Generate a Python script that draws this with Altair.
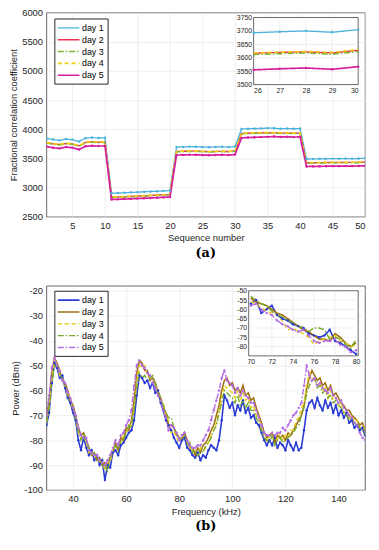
import altair as alt
import pandas as pd

DAYS = ["day 1", "day 2", "day 3", "day 4", "day 5"]

# ---------------- panel (a): correlation coefficient per sequence number
SEQ = list(range(1, 51))
A_DAY1 = [3845, 3825, 3810, 3832, 3822, 3790, 3848, 3858, 3850, 3855,
          2905, 2908, 2912, 2918, 2922, 2928, 2933, 2938, 2944, 2950,
          3695, 3698, 3702, 3700, 3696, 3693, 3697, 3700, 3695, 3705,
          4005, 4010, 4012, 4015, 4020, 4018, 4010, 4013, 4008, 4012,
          3490, 3492, 3494, 3495, 3497, 3496, 3498, 3497, 3499, 3502]
A_DAY2 = [3772, 3752, 3738, 3758, 3748, 3716, 3775, 3785, 3777, 3781,
          2838, 2841, 2845, 2850, 2855, 2860, 2866, 2871, 2876, 2882,
          3620, 3623, 3626, 3624, 3621, 3617, 3620, 3622, 3618, 3628,
          3928, 3932, 3935, 3938, 3942, 3940, 3933, 3936, 3931, 3935,
          3425, 3427, 3428, 3430, 3432, 3431, 3433, 3432, 3434, 3437]
A_DAY3 = [3766, 3746, 3732, 3752, 3742, 3710, 3769, 3779, 3771, 3775,
          2832, 2835, 2839, 2844, 2849, 2854, 2860, 2865, 2870, 2876,
          3614, 3617, 3620, 3618, 3615, 3612, 3615, 3618, 3613, 3623,
          3922, 3926, 3929, 3932, 3936, 3934, 3927, 3930, 3925, 3929,
          3419, 3421, 3422, 3424, 3426, 3425, 3427, 3426, 3428, 3431]
A_DAY4 = [3775, 3755, 3741, 3761, 3751, 3719, 3778, 3788, 3780, 3784,
          2841, 2844, 2848, 2853, 2858, 2863, 2869, 2874, 2879, 2885,
          3622, 3625, 3628, 3626, 3623, 3618, 3621, 3624, 3620, 3631,
          3931, 3935, 3938, 3941, 3945, 3943, 3936, 3939, 3934, 3938,
          3428, 3430, 3431, 3433, 3435, 3434, 3436, 3435, 3437, 3440]
A_DAY5 = [3705, 3683, 3672, 3695, 3684, 3652, 3708, 3717, 3712, 3715,
          2798, 2800, 2804, 2808, 2813, 2818, 2823, 2828, 2833, 2840,
          3558, 3561, 3564, 3562, 3559, 3555, 3559, 3562, 3557, 3567,
          3852, 3858, 3862, 3866, 3870, 3875, 3868, 3872, 3866, 3870,
          3362, 3364, 3365, 3367, 3368, 3368, 3369, 3369, 3371, 3374]
A_XTICKS = [5, 10, 15, 20, 25, 30, 35, 40, 45, 50]
A_YTICKS = [2500, 3000, 3500, 4000, 4500, 5000, 5500, 6000]
A_IN_XTICKS = [26, 27, 28, 29, 30]
A_IN_YTICKS = [3500, 3550, 3600, 3650, 3700, 3750]

# ---------------- panel (b): power spectrum
FREQ = list(range(30, 151))
B_DAY1 = [-74, -69, -57, -49, -51, -55, -54, -59, -63, -65,
          -69, -72, -80, -84, -79, -83, -86, -84, -88, -86,
          -90, -88, -96, -90, -91, -85, -84, -86, -82, -81,
          -79, -77, -76, -72, -62, -54, -55, -57, -56, -59,
          -57, -61, -60, -65, -68, -72, -74, -76, -79, -81,
          -83, -80, -79, -83, -84, -86, -87, -85, -88, -86,
          -87, -84, -82, -83, -84, -80, -72, -62, -64, -67,
          -65, -70, -66, -68, -64, -69, -67, -71, -70, -73,
          -74, -77, -80, -82, -80, -82, -79, -83, -81, -82,
          -84, -80, -82, -84, -81, -84, -83, -76, -68, -65,
          -64, -67, -63, -66, -68, -64, -67, -65, -69, -66,
          -70, -68, -71, -69, -73, -72, -75, -74, -76, -75,
          -78]
B_DAY2 = [-71, -64, -53, -47, -49, -52, -56, -57, -60, -64,
          -66, -70, -75, -78, -77, -80, -83, -86, -85, -88,
          -87, -90, -89, -90, -87, -85, -81, -84, -79, -80,
          -75, -76, -72, -64, -53, -48, -49, -52, -52, -56,
          -55, -57, -61, -63, -67, -69, -74, -74, -75, -78,
          -79, -80, -77, -80, -83, -83, -86, -83, -85, -82,
          -81, -79, -76, -74, -70, -66, -60, -56, -55, -58,
          -57, -60, -59, -61, -58, -62, -61, -64, -63, -67,
          -70, -73, -77, -79, -78, -77, -81, -78, -79, -78,
          -80, -77, -78, -76, -74, -72, -70, -66, -59, -55,
          -52, -54, -56, -55, -58, -57, -60, -58, -62, -61,
          -63, -65, -66, -68, -68, -70, -71, -72, -74, -73,
          -76]
B_DAY3 = [-73, -67, -56, -48, -50, -54, -55, -59, -62, -63,
          -68, -71, -77, -79, -78, -81, -85, -84, -87, -86,
          -89, -88, -92, -88, -89, -83, -83, -82, -81, -78,
          -77, -74, -74, -67, -57, -50, -51, -50, -54, -55,
          -57, -58, -62, -65, -65, -71, -72, -77, -76, -79,
          -81, -78, -79, -80, -83, -85, -84, -86, -83, -84,
          -83, -81, -78, -76, -73, -68, -63, -58, -59, -60,
          -61, -63, -60, -64, -61, -64, -63, -67, -66, -70,
          -71, -76, -77, -81, -78, -79, -79, -80, -77, -80,
          -78, -79, -76, -76, -72, -71, -67, -65, -58, -53,
          -55, -56, -58, -57, -60, -59, -63, -60, -64, -63,
          -66, -65, -69, -68, -71, -70, -73, -72, -75, -74,
          -76]
B_DAY4 = [-73, -67, -57, -50, -51, -53, -56, -58, -62, -65,
          -66, -72, -76, -80, -77, -81, -83, -86, -85, -88,
          -88, -90, -90, -93, -87, -85, -82, -84, -80, -80,
          -77, -74, -75, -68, -59, -53, -55, -54, -56, -55,
          -54, -57, -60, -63, -66, -69, -71, -71, -75, -77,
          -79, -79, -78, -82, -81, -85, -84, -86, -84, -85,
          -82, -81, -79, -76, -74, -69, -65, -60, -61, -62,
          -63, -65, -62, -66, -64, -67, -65, -68, -68, -71,
          -73, -76, -79, -80, -81, -78, -82, -80, -79, -81,
          -80, -79, -78, -77, -75, -74, -70, -67, -61, -58,
          -56, -55, -59, -58, -61, -60, -63, -62, -65, -64,
          -66, -67, -69, -70, -72, -71, -74, -73, -75, -76,
          -78]
B_DAY5 = [-70, -62, -51, -47, -50, -52, -56, -57, -61, -63,
          -67, -70, -75, -78, -79, -79, -84, -85, -86, -86,
          -88, -89, -90, -88, -86, -83, -80, -82, -78, -77,
          -74, -72, -68, -58, -50, -48, -50, -51, -53, -54,
          -57, -59, -62, -64, -68, -71, -76, -74, -75, -77,
          -80, -78, -77, -80, -82, -83, -83, -82, -82, -80,
          -78, -76, -72, -68, -64, -60, -55, -52, -56, -57,
          -58, -61, -59, -62, -60, -62, -63, -65, -65, -68,
          -71, -74, -77, -78, -78, -77, -78, -77, -77, -75,
          -76, -74, -72, -70, -69, -67, -65, -58, -50, -54,
          -56, -55, -58, -57, -59, -60, -61, -59, -62, -63,
          -65, -64, -67, -68, -70, -71, -73, -74, -77, -79,
          -80]
B_XTICKS = [40, 60, 80, 100, 120, 140]
B_YTICKS = [-100, -90, -80, -70, -60, -50, -40, -30, -20]

# inset of panel (b): 70-80 kHz detail
IN_FREQ = [70, 70.5, 71, 71.5, 72, 72.5, 73, 73.5, 74, 74.5, 75,
           75.5, 76, 76.5, 77, 77.5, 78, 78.5, 79, 79.5, 80]
IN_DAY1 = [-57, -55, -62, -60, -58, -63, -65, -66, -68, -69, -70,
           -73, -74, -75, -74, -71, -77, -78, -80, -82, -84]
IN_DAY2 = [-54, -56, -57, -58, -60, -62, -63, -65, -67, -69, -71,
           -72, -74, -76, -76, -77, -73, -75, -78, -80, -78]
IN_DAY3 = [-56, -57, -59, -61, -62, -63, -66, -71, -70, -72, -73,
           -75, -79, -77, -76, -75, -74, -77, -78, -80, -79]
IN_DAY4 = [-53, -55, -57, -58, -61, -63, -64, -66, -67, -69, -70,
           -72, -70, -70, -71, -76, -75, -76, -79, -81, -76]
IN_DAY5 = [-58, -57, -60, -62, -63, -66, -68, -69, -71, -72, -71,
           -74, -77, -78, -77, -77, -76, -79, -80, -83, -82]
B_IN_XTICKS = [70, 72, 74, 76, 78, 80]
B_IN_YTICKS = [-80, -75, -70, -65, -60, -55, -50]

# ---------------- styles
COL_A = ["#4AB3DD", "#F2304F", "#7DB534", "#F2D00C", "#D61E9E"]
DASH_A = [[1, 0], [1, 0], [6, 2, 1.5, 2], [4, 3], [1, 0]]
WID_A = [1.3, 1.7, 1.3, 1.3, 1.4]
COL_B = ["#2A3BD5", "#A06E10", "#E3CF1C", "#78A82A", "#B46BE6"]
DASH_B = [[1, 0], [1, 0], [4, 3], [6, 2, 1.5, 2], [6, 2, 1.5, 2]]
WID_B = [1.6, 1.4, 1.3, 1.4, 1.3]
TXT = "#262626"
GRID = "#E4E4E4"
W, H = 323, 207
LBL = "datum.value + ''"


def long(xs, series, xname, yname):
    rows = []
    for d, arr in zip(DAYS, series):
        for x, v in zip(xs, arr):
            rows.append({xname: x, yname: v, "day": d})
    return pd.DataFrame(rows)


def panel(df, dfin, xf, yf, xdom, ydom, xticks, yticks, xtitle, ytitle,
          cols, dashes, widths, marked, inx, iny, inxr, inyr,
          inxticks, inyticks, inxgrid, inygrid, caption, legxy):
    leg = alt.Legend(orient="none", legendX=legxy[0], legendY=legxy[1], title=None)
    color = alt.Color("day:N", scale=alt.Scale(domain=DAYS, range=cols), legend=leg)
    dash = alt.StrokeDash("day:N", scale=alt.Scale(domain=DAYS, range=dashes), legend=leg)
    width = alt.StrokeWidth("day:N", scale=alt.Scale(domain=DAYS, range=widths), legend=None)
    fill = alt.Fill("day:N", scale=alt.Scale(domain=DAYS, range=cols), legend=None)

    xs = alt.Scale(domain=xdom, nice=False, zero=False)
    ys = alt.Scale(domain=ydom, nice=False, zero=False)
    xax = alt.Axis(values=xticks, title=xtitle, grid=True, labelExpr=LBL)
    yax = alt.Axis(values=yticks, title=ytitle, grid=True, labelExpr=LBL)
    lines = alt.Chart(df).mark_line(clip=True).encode(
        x=alt.X(f"{xf}:Q", scale=xs, axis=xax),
        y=alt.Y(f"{yf}:Q", scale=ys, axis=yax),
        color=color, strokeDash=dash, strokeWidth=width)
    pts = alt.Chart(df[df["day"].isin(marked)]).mark_circle(size=6, opacity=1, clip=True).encode(
        x=alt.X(f"{xf}:Q", scale=xs, axis=xax),
        y=alt.Y(f"{yf}:Q", scale=ys, axis=yax),
        fill=fill)
    main = alt.layer(lines, pts)

    ixs = alt.Scale(domain=inx, range=inxr, nice=False, zero=False)
    iys = alt.Scale(domain=iny, range=inyr, nice=False, zero=False)
    ixax = alt.Axis(orient="bottom", offset=-(H - inyr[0]), values=inxticks,
                    title=None, grid=False, labelFontSize=7, labelPadding=2, zindex=1,
                    labelExpr=LBL)
    iyax = alt.Axis(orient="left", offset=-inxr[0], values=inyticks,
                    title=None, grid=False, labelFontSize=7, labelPadding=2,
                    zindex=1, labelExpr=LBL)
    box = pd.DataFrame({"x0": [inx[0]], "x1": [inx[1]], "y0": [iny[0]], "y1": [iny[1]]})
    bg = alt.Chart(box).mark_rect(fill="white", stroke=TXT, strokeWidth=0.7).encode(
        x=alt.X("x0:Q", scale=ixs, axis=ixax), x2="x1:Q",
        y=alt.Y("y0:Q", scale=iys, axis=iyax), y2="y1:Q")
    gv = alt.Chart(pd.DataFrame({"x0": inxgrid, "y0": iny[0], "y1": iny[1]})).mark_rule(
        color=GRID, strokeWidth=0.6).encode(
        x=alt.X("x0:Q", scale=ixs, axis=ixax), y=alt.Y("y0:Q", scale=iys, axis=iyax), y2="y1:Q")
    gh = alt.Chart(pd.DataFrame({"y0": inygrid, "x0": inx[0], "x1": inx[1]})).mark_rule(
        color=GRID, strokeWidth=0.6).encode(
        y=alt.Y("y0:Q", scale=iys, axis=iyax), x=alt.X("x0:Q", scale=ixs, axis=ixax), x2="x1:Q")
    ilines = alt.Chart(dfin).mark_line(clip=False).encode(
        x=alt.X(f"{xf}:Q", scale=ixs, axis=ixax),
        y=alt.Y(f"{yf}:Q", scale=iys, axis=iyax),
        color=color, strokeDash=dash, strokeWidth=width)
    ipts = alt.Chart(dfin[dfin["day"].isin(marked)]).mark_circle(size=6, opacity=1).encode(
        x=alt.X(f"{xf}:Q", scale=ixs, axis=ixax),
        y=alt.Y(f"{yf}:Q", scale=iys, axis=iyax),
        fill=fill)
    inset = alt.layer(bg, gv, gh, ilines, ipts)

    return alt.layer(main, inset).resolve_scale(x="independent", y="independent").properties(
        width=W, height=H,
        title=alt.TitleParams(caption, orient="bottom", anchor="middle", font="DejaVu Serif",
                              fontSize=13, fontWeight="bold", color="black", offset=5))


dfA = long(SEQ, [A_DAY1, A_DAY2, A_DAY3, A_DAY4, A_DAY5], "seq", "val")
dfA_in = dfA[(dfA["seq"] >= 26) & (dfA["seq"] <= 30)]
dfB = long(FREQ, [B_DAY1, B_DAY2, B_DAY3, B_DAY4, B_DAY5], "freq", "pwr")
dfB_in = long(IN_FREQ, [IN_DAY1, IN_DAY2, IN_DAY3, IN_DAY4, IN_DAY5], "freq", "pwr")

pa = panel(dfA, dfA_in, "seq", "val", [1, 50], [2500, 6000], A_XTICKS, A_YTICKS,
           "Sequence number", "Fractional correlation coefficient",
           COL_A, DASH_A, WID_A, ["day 1", "day 5"],
           [26, 30], [3500, 3750], [210, 316], [73, 5],
           A_IN_XTICKS, A_IN_YTICKS, A_IN_XTICKS[1:-1], A_IN_YTICKS[1:-1],
           "(a)", (8, 6))
pb = panel(dfB, dfB_in, "freq", "pwr", [30, 150], [-100, -18], B_XTICKS, B_YTICKS,
           "Frequency (kHz)", "Power (dBm)",
           COL_B, DASH_B, WID_B, ["day 1", "day 5"],
           [69.8, 80.2], [-85, -50], [205, 316], [71, 5],
           B_IN_XTICKS, B_IN_YTICKS, B_IN_XTICKS[1:-1], B_IN_YTICKS[:-1],
           "(b)", (8, 5))

chart = alt.vconcat(pa, pb, spacing=24).resolve_scale(
    color="independent", strokeDash="independent", strokeWidth="independent", fill="independent"
).configure(
    font="Liberation Sans", padding={"left": 0, "top": -5, "right": 5, "bottom": 2}
).configure_view(
    stroke=TXT, strokeWidth=0.7
).configure_axis(
    labelFont="Liberation Sans", labelFontSize=9.5, labelColor=TXT,
    titleFont="Liberation Sans", titleFontSize=9.5, titleFontWeight="normal", titleColor=TXT,
    gridColor=GRID, gridWidth=0.6, domain=False, tickSize=0, labelPadding=4, titlePadding=3
).configure_legend(
    strokeColor=TXT, fillColor="white", padding=3, cornerRadius=0,
    labelFont="Liberation Sans", labelFontSize=9, labelColor="black", labelOffset=7,
    symbolType="M-2,0L2,0", symbolSize=121, symbolOffset=5, symbolStrokeWidth=1.5,
    rowPadding=0
)

chart.save("out.html", embed_options={"renderer": "svg", "actions": False})
